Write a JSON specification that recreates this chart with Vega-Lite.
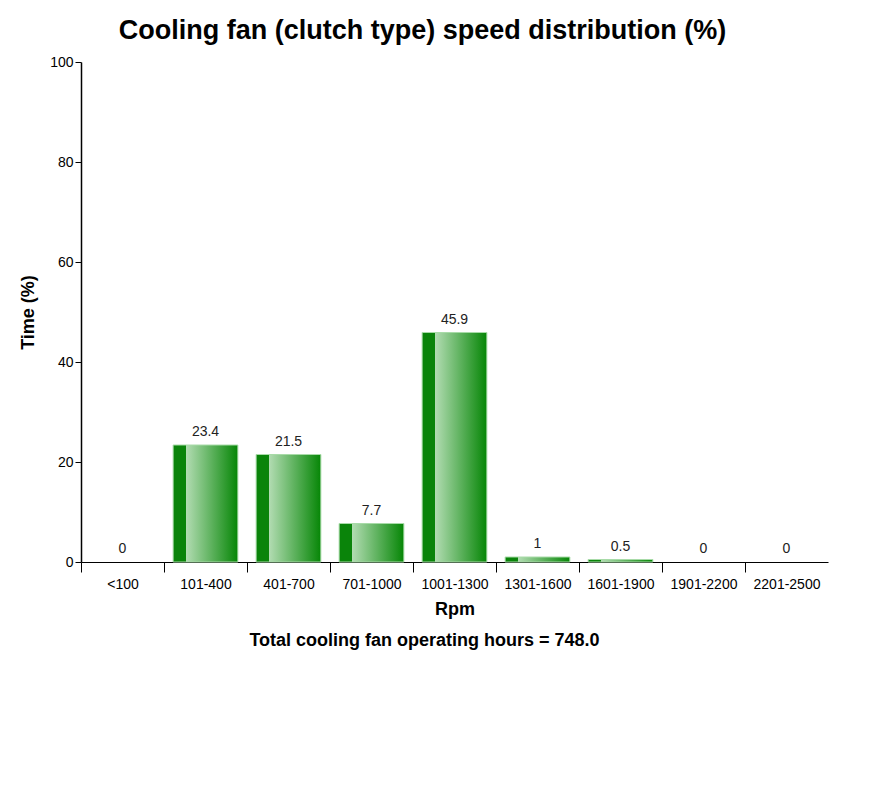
{
  "$schema": "https://vega.github.io/schema/vega-lite/v6.json",
  "autosize": "none",
  "width": 747,
  "height": 500,
  "padding": {"left": 81, "top": 62, "right": 63, "bottom": 232},
  "background": "white",
  "config": {
    "font": "Liberation Sans",
    "view": {"stroke": null}
  },
  "title": {
    "text": "Cooling fan (clutch type) speed distribution (%)",
    "fontSize": 27,
    "fontWeight": "bold",
    "color": "black",
    "anchor": "middle",
    "frame": "group",
    "dx": -32,
    "offset": 10
  },
  "data": {
    "values": [
      {"rpm": "<100", "pct": 0},
      {"rpm": "101-400", "pct": 23.4},
      {"rpm": "401-700", "pct": 21.5},
      {"rpm": "701-1000", "pct": 7.7},
      {"rpm": "1001-1300", "pct": 45.9},
      {"rpm": "1301-1600", "pct": 1},
      {"rpm": "1601-1900", "pct": 0.5},
      {"rpm": "1901-2200", "pct": 0},
      {"rpm": "2201-2500", "pct": 0}
    ]
  },
  "encoding": {
    "y": {
      "field": "pct",
      "type": "quantitative",
      "scale": {"domain": [0, 100], "nice": false},
      "axis": {
        "title": "Time (%)",
        "titleFontSize": 18,
        "titleFontWeight": "bold",
        "titleColor": "black",
        "titlePadding": 12,
        "values": [0, 20, 40, 60, 80, 100],
        "labelFontSize": 14,
        "labelColor": "black",
        "tickSize": 6,
        "tickColor": "black",
        "domainColor": "black",
        "domainWidth": 1.5,
        "grid": false
      }
    }
  },
  "layer": [
    {
      "mark": {
        "type": "bar",
        "stroke": "#a8dba8",
        "strokeWidth": 1,
        "color": {
          "gradient": "linear",
          "x1": 0, "y1": 0, "x2": 1, "y2": 0,
          "stops": [
            {"offset": 0, "color": "#0a840a"},
            {"offset": 0.2, "color": "#0a840a"},
            {"offset": 0.201, "color": "#b2dcb2"},
            {"offset": 1, "color": "#068606"}
          ]
        }
      },
      "encoding": {
        "x": {
          "field": "rpm",
          "type": "nominal",
          "sort": null,
          "scale": {"type": "band", "paddingInner": 0.22, "paddingOuter": 0.11},
          "axis": {
            "orient": "bottom",
            "title": "Rpm",
            "titleFontSize": 18,
            "titleFontWeight": "bold",
            "titleColor": "black",
            "titlePadding": 9,
            "labelAngle": 0,
            "labelFontSize": 14,
            "labelColor": "black",
            "labelPadding": 5,
            "labelOffset": 9.1,
            "bandPosition": 0,
            "tickOffset": -9.1,
            "tickSize": 10,
            "tickColor": "black",
            "domainColor": "black",
            "domainWidth": 1.2
          }
        },
        "strokeOpacity": {"condition": {"test": "datum.pct == 0", "value": 0}, "value": 1}
      }
    },
    {
      "mark": {"type": "text", "dy": -13, "fontSize": 14, "color": "#222"},
      "encoding": {
        "x": {
          "field": "rpm",
          "type": "nominal",
          "sort": null,
          "scale": {"type": "band", "paddingInner": 0.22, "paddingOuter": 0.11},
          "axis": {
            "orient": "bottom",
            "title": "Total cooling fan operating hours = 748.0",
            "titleFontSize": 18,
            "titleFontWeight": "bold",
            "titleColor": "black",
            "titleX": 343,
            "titleY": 78,
            "titleBaseline": "middle",
            "labels": false,
            "ticks": false,
            "domain": false
          }
        },
        "text": {"field": "pct", "type": "quantitative"}
      }
    }
  ],
  "resolve": {"scale": {"x": "independent"}}
}
